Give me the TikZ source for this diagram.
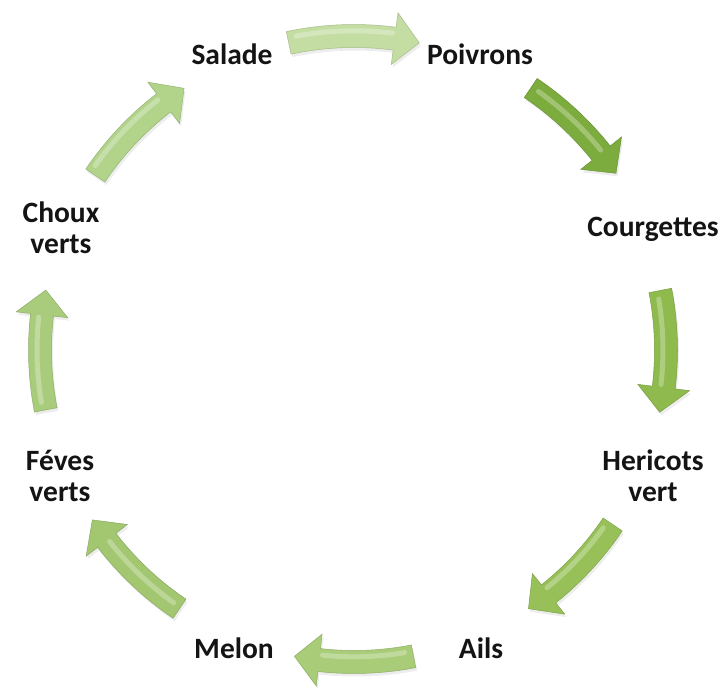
\documentclass[tikz,border=0pt]{standalone}
\usepackage{fontspec}
\setmainfont{Carlito}
\usetikzlibrary{calc}
\tikzset{
  lbl/.style={font=\bfseries\fontsize{29.5}{31}\selectfont, text=black!92, align=center, inner sep=0pt},
  hilite/.style={line width=5pt, opacity=0.28, draw=white, line cap=round}
}
% #1 tail angle, #2 tip angle, #3 radius (pt), #4 fill colour
\newcommand\arrowshape[5]{% #5 = extra shift
    \fill[#4, shift={#5}] (#1:\ro pt) arc[start angle=#1, end angle=\ah, radius=\ro pt]
      -- (\ah:\hu pt) -- (#2:#3pt) -- (\ah:\hd pt) -- (\ah:\ri pt)
      arc[start angle=\ah, end angle=#1, radius=\ri pt] -- cycle;}
\newcommand\cycarrow[4]{%
  \begin{scope}[shift={(354pt,-350pt)}]
    \pgfmathsetmacro\ah{#2+25/(#3)*57.2958}
    \pgfmathsetmacro\ro{#3+11.5}
    \pgfmathsetmacro\ri{#3-11.5}
    \pgfmathsetmacro\hu{#3+26}
    \pgfmathsetmacro\hd{#3-26}
    \pgfmathsetmacro\hl{#3+6*cos((#1+#2)/2-120)}
    \arrowshape{#1}{#2}{#3}{black, opacity=0.07}{(1.5pt,-3pt)}
    \arrowshape{#1}{#2}{#3}{#4, draw=#4!85!black, line width=0.5pt}{(0,0)}
    \draw[hilite] ({#1-1.5}:\hl pt) arc[start angle={#1-1.5}, end angle={\ah+0.5}, radius=\hl pt];
  \end{scope}}
\begin{document}
\begin{tikzpicture}
\useasboundingbox (0,0) rectangle (722pt,-695pt);
\fill[white] (0,0) rectangle (722pt,-695pt);
\definecolor{ga}{HTML}{C4DDA2}
\definecolor{gb}{HTML}{7DAC3E}
\definecolor{gc}{HTML}{8EBA4E}
\definecolor{gd}{HTML}{97C158}
\definecolor{ge}{HTML}{A8CC78}
\definecolor{gf}{HTML}{A2C770}
\definecolor{gg}{HTML}{A8CC7C}
\definecolor{gh}{HTML}{B2D38A}
\cycarrow{102}{78}{314}{ga}
\cycarrow{56}{34}{316}{gb}
\cycarrow{11}{-11.5}{312}{gc}
\cycarrow{-34}{-56}{312}{gd}
\cycarrow{-79}{-101}{312}{ge}
\cycarrow{-124}{-147}{312}{gf}
\cycarrow{-169}{-191}{314}{gg}
\cycarrow{146}{123}{312}{gh}
\node[lbl] (salade) at (232pt,-54pt) {Salade};
\node[lbl] (poivrons) at (480pt,-54pt) {Poivrons};
\node[lbl] (courgettes) at (653pt,-229pt) {Courgettes};
\node[lbl] (hericots) at (653pt,-476pt) {Hericots\\vert};
\node[lbl] (ails) at (481pt,-648pt) {Ails};
\node[lbl] (melon) at (234pt,-648pt) {Melon};
\node[lbl] (feves) at (60pt,-476pt) {Féves\\verts};
\node[lbl] (choux) at (61pt,-228pt) {Choux\\verts};
\end{tikzpicture}
\end{document}
